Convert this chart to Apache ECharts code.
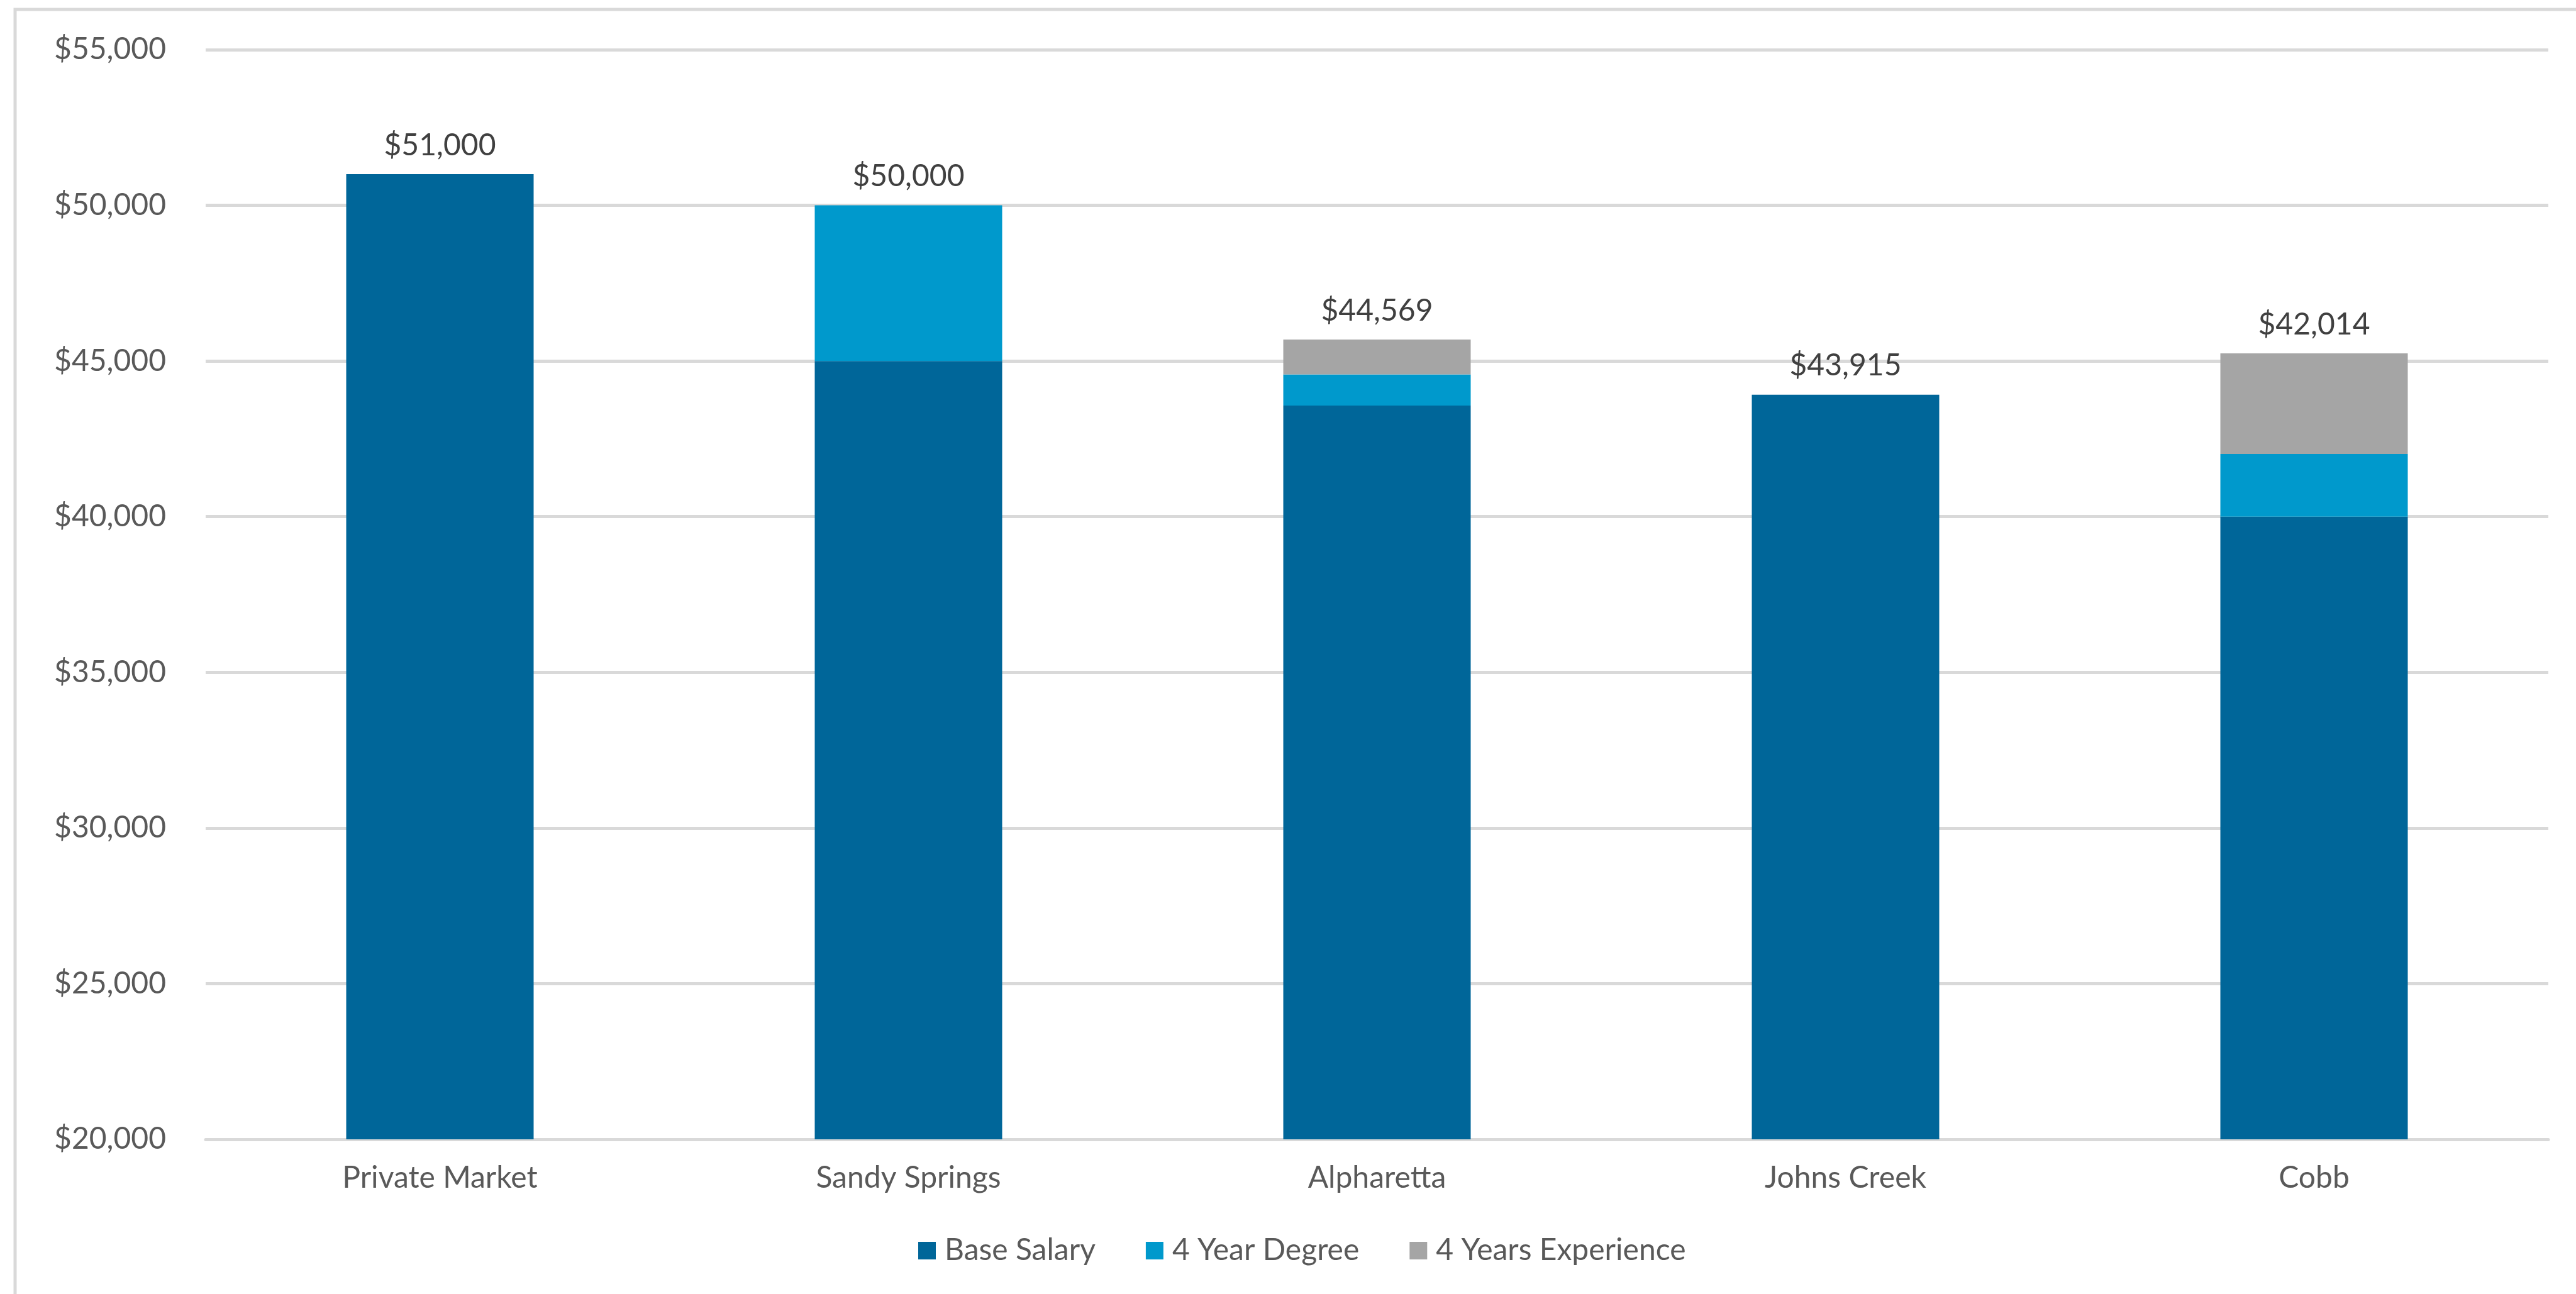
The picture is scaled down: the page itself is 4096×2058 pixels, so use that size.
<!DOCTYPE html>
<html>
<head>
<meta charset="utf-8">
<script src="https://cdn.jsdelivr.net/npm/echarts@6/dist/echarts.min.js"></script>
<style>
  html, body { margin: 0; padding: 0; background: #fff; }
  #chart { width: 4096px; height: 2058px; }
</style>
</head>
<body>
<div id="chart"></div>
<script>
var categories = ['Private Market', 'Sandy Springs', 'Alpharetta', 'Johns Creek', 'Cobb'];
var baseSalary = [51000, 45000, 43569, 43915, 40000];
var yearDegree = [0, 5000, 1000, 0, 2014];
var yearsExperience = [0, 0, 1120, 0, 3230];
var topLabels = [51000, 50000, 44569, 43915, 42014];

function money(v) {
	return '$' + Number(v).toLocaleString('en-US');
}

var myChart = echarts.init(document.getElementById('chart'));
myChart.setOption({
	animation: false,
	backgroundColor: '#ffffff',
	textStyle: { fontFamily: 'Lato' },
	graphic: [{
		type: 'rect',
		shape: { x: 24, y: 15, width: 5000, height: 3000 },
		style: { fill: 'none', stroke: '#d9d9d9', lineWidth: 5 },
		silent: true
	}],
	grid: { left: 327, right: 44, top: 79, bottom: 246 },
	legend: {
		left: 1455,
		top: 1960,
		icon: 'rect',
		itemWidth: 28,
		itemHeight: 28,
		itemGap: 80,
		textStyle: { fontSize: 48, color: '#595959', fontFamily: 'Lato', padding: [0, 0, 0, 9] },
		data: ['Base Salary', '4 Year Degree', '4 Years Experience']
	},
	xAxis: {
		type: 'category',
		data: categories,
		axisLine: { lineStyle: { color: '#d9d9d9', width: 5 } },
		axisTick: { show: false },
		axisLabel: { fontSize: 48, color: '#595959', margin: 38, fontFamily: 'Lato' }
	},
	yAxis: {
		type: 'value',
		min: 20000,
		max: 55000,
		interval: 5000,
		axisLine: { show: false },
		axisTick: { show: false },
		splitLine: { lineStyle: { color: '#d9d9d9', width: 5 } },
		axisLabel: { fontSize: 48, color: '#595959', margin: 63, fontFamily: 'Lato', formatter: money }
	},
	series: [
		{
			name: 'Base Salary',
			type: 'bar',
			stack: 'pay',
			barWidth: '40%',
			itemStyle: { color: '#006699' },
			data: baseSalary
		},
		{
			name: '4 Year Degree',
			type: 'bar',
			stack: 'pay',
			itemStyle: { color: '#0099cc' },
			data: yearDegree
		},
		{
			name: '4 Years Experience',
			type: 'bar',
			stack: 'pay',
			itemStyle: { color: '#a5a5a5' },
			label: {
				show: true,
				position: 'top',
				distance: 22,
				fontSize: 48,
				color: '#404040',
				fontFamily: 'Lato',
				formatter: function (p) { return money(topLabels[p.dataIndex]); }
			},
			data: yearsExperience
		}
	]
});
</script>
</body>
</html>
